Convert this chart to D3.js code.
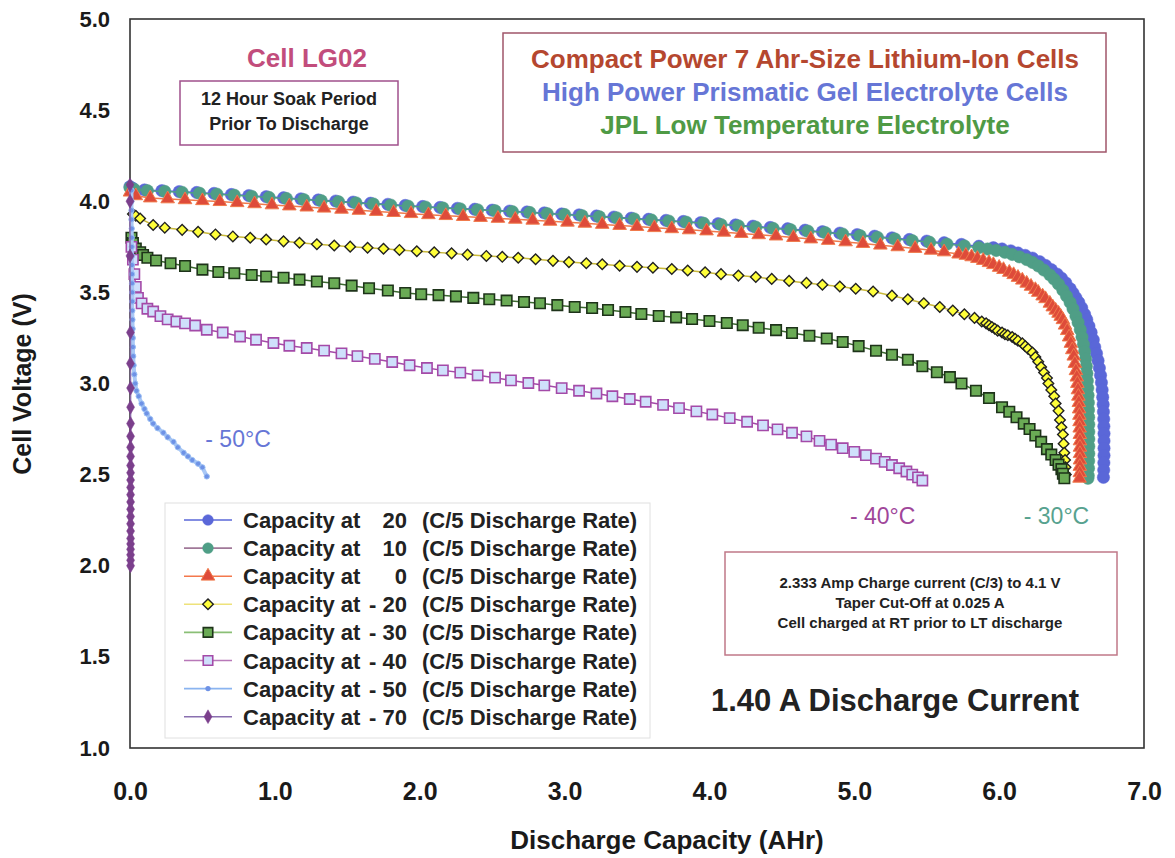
<!DOCTYPE html>
<html>
<head>
<meta charset="utf-8">
<script src="https://cdn.jsdelivr.net/npm/d3@7"></script>
<style>
  body { margin: 0; background: #fff; }
  text { font-family: "Liberation Sans", Arial, sans-serif; }
</style>
</head>
<body>
<div id="chart"></div>
<script>
// Cell LG02 discharge curves at 1.40 A, capacity (AHr) vs voltage (V)
const cap20 = [[0.00,4.08],[0.02,4.07],[0.10,4.062],[0.22,4.058],[0.34,4.053],[0.46,4.048],[0.58,4.043],[0.70,4.037],[0.82,4.031],[0.94,4.025],[1.06,4.019],[1.18,4.013],[1.30,4.007],[1.42,4.001],[1.54,3.995],[1.66,3.989],[1.78,3.983],[1.90,3.977],[2.02,3.971],[2.14,3.966],[2.26,3.961],[2.38,3.956],[2.50,3.951],[2.62,3.946],[2.74,3.941],[2.86,3.936],[2.98,3.930],[3.10,3.925],[3.22,3.919],[3.34,3.913],[3.46,3.907],[3.58,3.901],[3.70,3.895],[3.82,3.889],[3.94,3.883],[4.06,3.877],[4.18,3.870],[4.30,3.863],[4.42,3.856],[4.54,3.849],[4.66,3.841],[4.78,3.833],[4.90,3.825],[5.02,3.817],[5.14,3.808],[5.26,3.799],[5.38,3.790],[5.50,3.781],[5.62,3.772],[5.74,3.763],[5.86,3.753],[5.96,3.745],[6.02,3.738],[6.08,3.728],[6.13,3.716],[6.18,3.703],[6.23,3.688],[6.28,3.668],[6.32,3.648],[6.36,3.625],[6.40,3.60],[6.43,3.578],[6.46,3.552],[6.49,3.52],[6.51,3.496],[6.53,3.47],[6.55,3.445],[6.57,3.415],[6.59,3.38],[6.605,3.35],[6.62,3.315],[6.635,3.28],[6.65,3.24],[6.66,3.20],[6.672,3.165],[6.683,3.125],[6.692,3.085],[6.70,3.045],[6.706,3.005],[6.711,2.965],[6.715,2.925],[6.718,2.885],[6.72,2.845],[6.722,2.805],[6.723,2.765],[6.724,2.725],[6.724,2.685],[6.724,2.645],[6.724,2.605],[6.723,2.565],[6.722,2.525],[6.72,2.485]];

const cap10 = [[0.00,4.075],[0.03,4.065],[0.12,4.058],[0.24,4.054],[0.36,4.049],[0.48,4.044],[0.60,4.039],[0.72,4.033],[0.84,4.027],[0.96,4.021],[1.08,4.015],[1.20,4.009],[1.32,4.003],[1.44,3.997],[1.56,3.991],[1.68,3.985],[1.80,3.979],[1.92,3.973],[2.04,3.968],[2.16,3.963],[2.28,3.958],[2.40,3.953],[2.52,3.948],[2.64,3.943],[2.76,3.938],[2.88,3.932],[3.00,3.927],[3.12,3.921],[3.24,3.915],[3.36,3.909],[3.48,3.903],[3.60,3.897],[3.72,3.891],[3.84,3.885],[3.96,3.879],[4.08,3.872],[4.20,3.865],[4.32,3.858],[4.44,3.851],[4.56,3.844],[4.68,3.836],[4.80,3.828],[4.92,3.820],[5.04,3.811],[5.16,3.802],[5.28,3.793],[5.40,3.784],[5.52,3.775],[5.64,3.765],[5.76,3.755],[5.86,3.745],[5.92,3.738],[5.98,3.73],[6.04,3.72],[6.09,3.708],[6.14,3.695],[6.19,3.68],[6.23,3.664],[6.27,3.645],[6.31,3.622],[6.35,3.596],[6.38,3.572],[6.41,3.545],[6.44,3.512],[6.465,3.48],[6.49,3.445],[6.51,3.41],[6.53,3.37],[6.545,3.335],[6.56,3.295],[6.572,3.255],[6.582,3.215],[6.59,3.175],[6.597,3.135],[6.602,3.095],[6.606,3.055],[6.609,3.015],[6.612,2.975],[6.614,2.935],[6.616,2.895],[6.617,2.855],[6.618,2.815],[6.619,2.775],[6.619,2.735],[6.619,2.695],[6.619,2.655],[6.619,2.615],[6.618,2.575],[6.617,2.535],[6.615,2.495],[6.613,2.48]];

const cap0 = [[0.00,4.05],[0.04,4.03],[0.14,4.018],[0.26,4.013],[0.38,4.008],[0.50,4.003],[0.62,3.998],[0.74,3.992],[0.86,3.986],[0.98,3.980],[1.10,3.974],[1.22,3.968],[1.34,3.962],[1.46,3.956],[1.58,3.950],[1.70,3.944],[1.82,3.938],[1.94,3.932],[2.06,3.926],[2.18,3.921],[2.30,3.916],[2.42,3.911],[2.54,3.906],[2.66,3.901],[2.78,3.896],[2.90,3.890],[3.02,3.885],[3.14,3.879],[3.26,3.873],[3.38,3.867],[3.50,3.861],[3.62,3.855],[3.74,3.849],[3.86,3.843],[3.98,3.837],[4.10,3.830],[4.22,3.823],[4.34,3.816],[4.46,3.809],[4.58,3.801],[4.70,3.793],[4.82,3.785],[4.94,3.777],[5.06,3.768],[5.18,3.759],[5.30,3.750],[5.42,3.741],[5.53,3.731],[5.62,3.722],[5.72,3.71],[5.77,3.703],[5.81,3.695],[5.85,3.686],[5.89,3.675],[5.93,3.663],[5.96,3.652],[6.00,3.637],[6.03,3.625],[6.07,3.61],[6.10,3.597],[6.13,3.582],[6.16,3.567],[6.19,3.55],[6.22,3.533],[6.25,3.515],[6.27,3.50],[6.30,3.48],[6.32,3.465],[6.35,3.44],[6.37,3.42],[6.39,3.402],[6.41,3.385],[6.425,3.368],[6.44,3.35],[6.455,3.32],[6.47,3.29],[6.483,3.255],[6.495,3.22],[6.505,3.185],[6.515,3.15],[6.523,3.11],[6.53,3.07],[6.536,3.035],[6.54,3.00],[6.544,2.965],[6.547,2.93],[6.55,2.895],[6.552,2.86],[6.554,2.825],[6.555,2.79],[6.556,2.755],[6.557,2.72],[6.558,2.685],[6.558,2.65],[6.558,2.615],[6.558,2.58],[6.557,2.545],[6.557,2.51],[6.555,2.48]];

const capM20 = [[0.02,3.93],[0.04,3.92],[0.07,3.905],[0.16,3.87],[0.24,3.855],[0.36,3.843],[0.47,3.832],[0.59,3.818],[0.71,3.807],[0.83,3.80],[0.94,3.79],[1.06,3.78],[1.17,3.772],[1.29,3.764],[1.41,3.757],[1.52,3.751],[1.64,3.745],[1.75,3.739],[1.86,3.733],[1.98,3.726],[2.10,3.72],[2.22,3.714],[2.33,3.707],[2.46,3.70],[2.57,3.695],[2.68,3.69],[2.80,3.682],[2.92,3.673],[3.03,3.666],[3.15,3.66],[3.26,3.654],[3.38,3.646],[3.50,3.64],[3.61,3.635],[3.74,3.628],[3.85,3.62],[3.97,3.61],[4.08,3.60],[4.20,3.592],[4.32,3.584],[4.43,3.574],[4.55,3.563],[4.67,3.552],[4.78,3.542],[4.90,3.532],[5.01,3.52],[5.13,3.505],[5.26,3.482],[5.37,3.462],[5.48,3.44],[5.59,3.42],[5.68,3.40],[5.76,3.38],[5.83,3.36],[5.88,3.34],[5.91,3.33],[5.93,3.32],[5.95,3.31],[5.97,3.30],[5.99,3.29],[6.02,3.28],[6.04,3.27],[6.06,3.265],[6.09,3.255],[6.11,3.245],[6.13,3.235],[6.16,3.22],[6.18,3.205],[6.20,3.19],[6.23,3.17],[6.25,3.145],[6.27,3.12],[6.29,3.09],[6.31,3.06],[6.33,3.03],[6.34,3.00],[6.36,2.965],[6.38,2.93],[6.39,2.89],[6.41,2.85],[6.42,2.80],[6.43,2.76],[6.44,2.72],[6.445,2.67],[6.45,2.62],[6.455,2.58],[6.458,2.54],[6.46,2.50]];

const capM30 = [[0.01,3.80],[0.02,3.77],[0.04,3.74],[0.07,3.72],[0.09,3.705],[0.12,3.69],[0.18,3.675],[0.28,3.66],[0.38,3.645],[0.50,3.625],[0.61,3.612],[0.72,3.605],[0.84,3.595],[0.94,3.587],[1.06,3.58],[1.17,3.57],[1.29,3.56],[1.41,3.55],[1.53,3.537],[1.65,3.523],[1.78,3.51],[1.90,3.497],[2.01,3.49],[2.13,3.485],[2.25,3.478],[2.37,3.47],[2.48,3.462],[2.60,3.455],[2.72,3.447],[2.83,3.44],[2.95,3.43],[3.07,3.42],[3.19,3.414],[3.30,3.403],[3.42,3.392],[3.53,3.381],[3.65,3.37],[3.77,3.363],[3.88,3.354],[4.00,3.343],[4.12,3.332],[4.23,3.32],[4.34,3.306],[4.46,3.293],[4.57,3.277],[4.69,3.262],[4.81,3.247],[4.92,3.228],[5.03,3.205],[5.15,3.18],[5.26,3.158],[5.37,3.13],[5.47,3.095],[5.57,3.062],[5.66,3.035],[5.74,3.00],[5.84,2.96],[5.93,2.92],[6.02,2.87],[6.07,2.845],[6.12,2.815],[6.17,2.78],[6.21,2.75],[6.25,2.715],[6.29,2.68],[6.33,2.64],[6.36,2.61],[6.39,2.58],[6.41,2.555],[6.43,2.53],[6.44,2.505],[6.45,2.48]];

const capM40 = [[0.01,3.75],[0.02,3.68],[0.03,3.60],[0.04,3.53],[0.055,3.47],[0.08,3.44],[0.12,3.41],[0.16,3.395],[0.21,3.37],[0.26,3.352],[0.32,3.34],[0.38,3.33],[0.45,3.318],[0.53,3.295],[0.64,3.28],[0.76,3.258],[0.87,3.24],[0.99,3.222],[1.10,3.207],[1.22,3.195],[1.34,3.18],[1.46,3.165],[1.57,3.15],[1.69,3.135],[1.81,3.118],[1.93,3.10],[2.05,3.085],[2.16,3.072],[2.28,3.06],[2.40,3.045],[2.52,3.032],[2.63,3.017],[2.75,3.003],[2.86,2.99],[2.98,2.975],[3.10,2.96],[3.22,2.945],[3.33,2.93],[3.45,2.915],[3.56,2.90],[3.68,2.883],[3.79,2.865],[3.91,2.847],[4.02,2.83],[4.14,2.81],[4.26,2.79],[4.37,2.77],[4.47,2.748],[4.57,2.73],[4.67,2.71],[4.76,2.685],[4.84,2.665],[4.92,2.645],[5.00,2.625],[5.08,2.607],[5.15,2.588],[5.21,2.57],[5.26,2.553],[5.31,2.535],[5.36,2.517],[5.40,2.50],[5.44,2.485],[5.47,2.468]];

const capM50 = [[0.01,4.06],[0.01,4.00],[0.01,3.95],[0.01,3.90],[0.012,3.85],[0.012,3.80],[0.012,3.75],[0.013,3.70],[0.013,3.65],[0.014,3.60],[0.014,3.55],[0.015,3.50],[0.015,3.45],[0.016,3.40],[0.017,3.35],[0.018,3.30],[0.019,3.25],[0.02,3.20],[0.022,3.15],[0.025,3.10],[0.03,3.05],[0.036,3.00],[0.045,2.96],[0.06,2.93],[0.08,2.89],[0.10,2.86],[0.115,2.836],[0.14,2.805],[0.16,2.78],[0.19,2.755],[0.23,2.73],[0.26,2.705],[0.30,2.68],[0.33,2.65],[0.37,2.62],[0.40,2.60],[0.43,2.58],[0.47,2.56],[0.50,2.54],[0.53,2.49]];

const capM70 = [[0.0,4.09],[0.0,4.0],[0.0,3.70],[0.003,3.28],[0.003,3.11],[0.004,2.975],[0.004,2.87],[0.004,2.78],[0.004,2.71],[0.004,2.65],[0.004,2.60],[0.004,2.55],[0.004,2.51],[0.004,2.47],[0.004,2.43],[0.004,2.39],[0.004,2.35],[0.004,2.31],[0.004,2.27],[0.004,2.23],[0.004,2.19],[0.004,2.15],[0.004,2.12],[0.004,2.09],[0.004,2.06],[0.004,2.03],[0.004,2.0]];

const temps = ["20", "10", "0", "- 20", "- 30", "- 40", "- 50", "- 70"];
const xTicks = [0, 1, 2, 3, 4, 5, 6, 7];
const yTicks = [1.0, 1.5, 2.0, 2.5, 3.0, 3.5, 4.0, 4.5, 5.0];

const titleLines = [
  "Compact Power 7 Ahr-Size Lithium-Ion Cells",
  "High Power Prismatic Gel Electrolyte Cells",
  "JPL Low Temperature Electrolyte"
];
const soakLines = ["12 Hour Soak Period", "Prior To Discharge"];
const chargeLines = [
  "2.333 Amp Charge current (C/3) to 4.1 V",
  "Taper Cut-Off at 0.025 A",
  "Cell charged at RT prior to LT discharge"
];

const W = 1175, H = 858;
const plot = { left: 130, right: 1144, top: 19, bottom: 748 };

const svg = d3.select("#chart")
  .append("svg")
  .attr("width", W)
  .attr("height", H);

svg.append("rect").attr("width", W).attr("height", H).attr("fill", "#fff");

const x = d3.scaleLinear().domain([0, 7]).range([plot.left, plot.right]);
const y = d3.scaleLinear().domain([1, 5]).range([plot.bottom, plot.top]);

// styles per series, same order as temps
const styles = [
  { data: cap20,  sym: d3.symbolCircle,   size: 120, rot: 0,  fill: "#5a67d8", stroke: "#5a67d8", sw: 0.5, line: "#5a67d8", lw: 1.5, key: "#5a67d8" },
  { data: cap10,  sym: d3.symbolCircle,   size: 120, rot: 0,  fill: "#4f9e86", stroke: "#4f9e86", sw: 0.5, line: "#4f9e86", lw: 1.5, key: "#a07898" },
  { data: cap0,   sym: d3.symbolTriangle, size: 80,  rot: 0,  fill: "#de4b3a", stroke: "#f07a4c", sw: 1,   line: "#f07a4c", lw: 1.5, key: "#f4784c" },
  { data: capM20, sym: d3.symbolSquare,   size: 56,  rot: 45, fill: "#ffff3a", stroke: "#222",    sw: 1.4, line: "#c9b93a", lw: 1.5, key: "#eee27a" },
  { data: capM30, sym: d3.symbolSquare,   size: 110, rot: 0,  fill: "#6aab55", stroke: "#1e331a", sw: 1.6, line: "#3c6a30", lw: 1.5, key: "#8abf76" },
  { data: capM40, sym: d3.symbolSquare,   size: 105, rot: 0,  fill: "#cfe0fb", stroke: "#a44aa8", sw: 1.6, line: "#a44aa8", lw: 1.5, key: "#b878b8" },
  { data: capM50, sym: d3.symbolCircle,   size: 22,  rot: 0,  fill: "#6e92e6", stroke: "#9cc0f4", sw: 1,   line: "#a9c8f6", lw: 4,   key: "#8ab4f0" },
  { data: capM70, sym: d3.symbolDiamond,  size: 55,  rot: 0,  fill: "#7b3f8c", stroke: "#7b3f8c", sw: 0.5, line: "#8a6aaa", lw: 1.5, key: "#8a70b0" }
];

// frame
svg.append("rect")
  .attr("x", plot.left)
  .attr("y", plot.top)
  .attr("width", plot.right - plot.left)
  .attr("height", plot.bottom - plot.top)
  .attr("fill", "none")
  .attr("stroke", "#333")
  .attr("stroke-width", 1.6);

// axes (labels only, no tick marks)
const xAxisG = svg.append("g")
  .attr("transform", `translate(0,${plot.bottom})`)
  .call(d3.axisBottom(x).tickValues(xTicks).tickSize(0).tickPadding(34).tickFormat(d3.format(".1f")));
const yAxisG = svg.append("g")
  .attr("transform", `translate(${plot.left},0)`)
  .call(d3.axisLeft(y).tickValues(yTicks).tickSize(0).tickPadding(20).tickFormat(d3.format(".1f")));

[xAxisG, yAxisG].forEach(a => {
  a.select(".domain").remove();
  a.selectAll("text")
    .attr("font-family", "Liberation Sans, Arial, sans-serif")
    .attr("font-weight", "bold")
    .attr("fill", "#1a1a1a");
});
xAxisG.selectAll("text").attr("font-size", 25);
yAxisG.selectAll("text").attr("font-size", 22);

svg.append("text")
  .attr("transform", "rotate(-90)")
  .attr("x", -384)
  .attr("y", 31)
  .attr("text-anchor", "middle")
  .attr("font-size", 25)
  .attr("font-weight", "bold")
  .attr("fill", "#1a1a1a")
  .text("Cell Voltage (V)");

svg.append("text")
  .attr("x", 667)
  .attr("y", 849)
  .attr("text-anchor", "middle")
  .attr("font-size", 26)
  .attr("font-weight", "bold")
  .attr("fill", "#1a1a1a")
  .text("Discharge Capacity (AHr)");

// curves
const line = d3.line().x(d => x(d[0])).y(d => y(d[1]));

const curves = svg.append("g");
styles.forEach(s => {
  const g = curves.append("g");
  g.append("path")
    .attr("d", line(s.data))
    .attr("fill", "none")
    .attr("stroke", s.line)
    .attr("stroke-width", s.lw);
  g.selectAll("path.pt")
    .data(s.data)
    .join("path")
    .attr("class", "pt")
    .attr("d", d3.symbol(s.sym, s.size))
    .attr("transform", d => `translate(${x(d[0])},${y(d[1])}) rotate(${s.rot})`)
    .attr("fill", s.fill)
    .attr("stroke", s.stroke)
    .attr("stroke-width", s.sw);
});

// temperature labels
const tempLabels = [
  { text: "- 50°C", x: 0.52, v: 2.65, color: "#6676d6" },
  { text: "- 40°C", x: 4.97, v: 2.23, color: "#a0469a" },
  { text: "- 30°C", x: 6.17, v: 2.23, color: "#57a28f" }
];
svg.selectAll("text.temp")
  .data(tempLabels)
  .join("text")
  .attr("class", "temp")
  .attr("x", d => x(d.x))
  .attr("y", d => y(d.v))
  .attr("font-size", 23)
  .attr("fill", d => d.color)
  .text(d => d.text);

// legend
const legend = svg.append("g");
legend.append("rect")
  .attr("x", 165).attr("y", 503)
  .attr("width", 485).attr("height", 235)
  .attr("fill", "#fff")
  .attr("stroke", "#e0e0e0")
  .attr("stroke-width", 1);

const rows = legend.selectAll("g.row")
  .data(styles)
  .join("g")
  .attr("class", "row")
  .attr("transform", (d, i) => `translate(0,${520 + i * 28.1})`);

rows.append("line")
  .attr("x1", 184).attr("x2", 232)
  .attr("stroke", d => d.key)
  .attr("stroke-width", 1.6);
rows.append("path")
  .attr("d", d => d3.symbol(d.sym, Math.min(d.size, 90))())
  .attr("transform", d => `translate(208,0) rotate(${d.rot})`)
  .attr("fill", d => d.fill)
  .attr("stroke", d => d.stroke === "#9cc0f4" ? "none" : d.stroke)
  .attr("stroke-width", d => d.sw);

const rowText = (sel) => sel
  .attr("y", 8)
  .attr("font-size", 22)
  .attr("font-weight", "bold")
  .attr("fill", "#222");
rows.append("text").attr("x", 243).call(rowText).text("Capacity at");
rows.append("text").attr("x", 407).attr("text-anchor", "end").call(rowText).text((d, i) => temps[i]);
rows.append("text").attr("x", 422).call(rowText).text("(C/5 Discharge Rate)");

// cell label + soak box
svg.append("text")
  .attr("x", 307).attr("y", 67)
  .attr("text-anchor", "middle")
  .attr("font-size", 26)
  .attr("font-weight", "bold")
  .attr("fill", "#c24d7c")
  .text("Cell LG02");

svg.append("rect")
  .attr("x", 180).attr("y", 81)
  .attr("width", 218).attr("height", 64)
  .attr("fill", "#fff")
  .attr("stroke", "#a0508c")
  .attr("stroke-width", 1.5);
svg.selectAll("text.soak")
  .data(soakLines)
  .join("text")
  .attr("class", "soak")
  .attr("x", 289)
  .attr("y", (d, i) => 105 + i * 25)
  .attr("text-anchor", "middle")
  .attr("font-size", 18)
  .attr("font-weight", "bold")
  .attr("fill", "#222")
  .text(d => d);

// title box
const titleColors = ["#b5472f", "#6676d6", "#4f9a45"];
svg.append("rect")
  .attr("x", 503).attr("y", 33)
  .attr("width", 603).attr("height", 119)
  .attr("fill", "#fff")
  .attr("stroke", "#a0566a")
  .attr("stroke-width", 1.5);
svg.selectAll("text.title")
  .data(titleLines)
  .join("text")
  .attr("class", "title")
  .attr("x", 805)
  .attr("y", (d, i) => 68 + i * 33)
  .attr("text-anchor", "middle")
  .attr("font-size", 26)
  .attr("font-weight", "bold")
  .attr("fill", (d, i) => titleColors[i])
  .text(d => d);

// charge conditions box
svg.append("rect")
  .attr("x", 725).attr("y", 552)
  .attr("width", 392).attr("height", 103)
  .attr("fill", "#fff")
  .attr("stroke", "#c07888")
  .attr("stroke-width", 1.5);
svg.selectAll("text.charge")
  .data(chargeLines)
  .join("text")
  .attr("class", "charge")
  .attr("x", 920)
  .attr("y", (d, i) => 588 + i * 20)
  .attr("text-anchor", "middle")
  .attr("font-size", 15)
  .attr("font-weight", "bold")
  .attr("fill", "#222")
  .text(d => d);

svg.append("text")
  .attr("x", 895).attr("y", 711)
  .attr("text-anchor", "middle")
  .attr("font-size", 31)
  .attr("font-weight", "bold")
  .attr("fill", "#222")
  .text("1.40 A Discharge Current");
</script>
</body>
</html>
